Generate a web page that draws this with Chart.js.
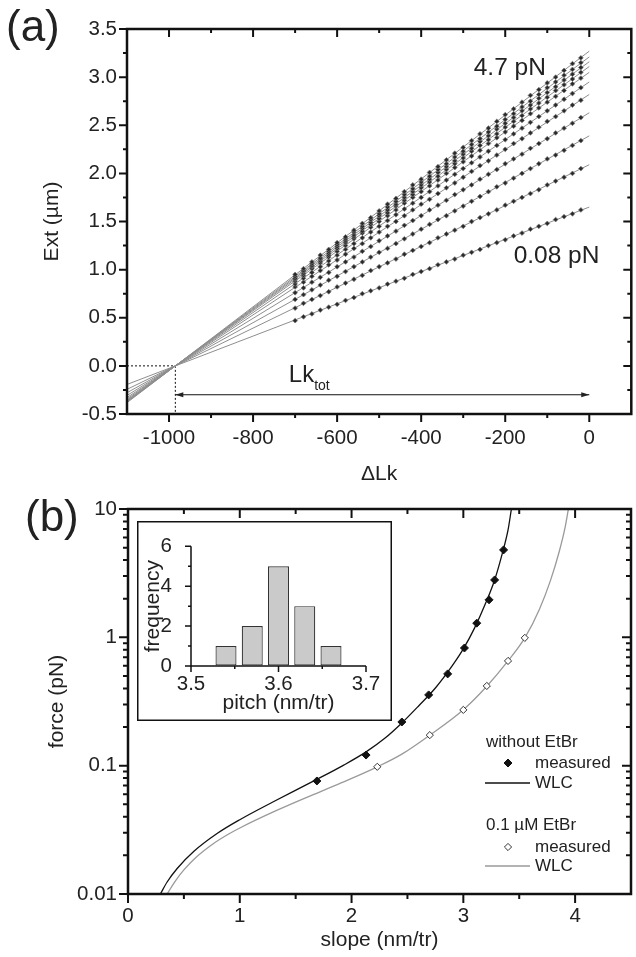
<!DOCTYPE html>
<html lang="en">
<head>
<meta charset="UTF-8">
<title>Extension vs ΔLk, force vs slope</title>
<script src="https://cdn.jsdelivr.net/npm/chart.js"></script>
<style>
  body { margin: 0; background: #fff; }
  #wrap { position: relative; width: 636px; height: 957px; }
  canvas { position: absolute; }
  #chartA { left: 0; top: 0; }
  #chartB { left: 0; top: 490px; }
  #inset { left: 137px; top: 521px; }
</style>
</head>
<body>
<div id="wrap">
  <canvas id="chartA" width="636" height="490"></canvas>
  <canvas id="chartB" width="636" height="467"></canvas>
  <canvas id="inset" width="255" height="200"></canvas>
</div>
<script>
// ---------- panel (a): extension vs linking number, 4.7 pN (top) .. 0.08 pN (bottom) ----------
const lkMeasured = [-700, -680, -660, -640, -620, -600, -580, -560, -540, -520, -500, -480, -460, -440, -420,
  -400, -380, -360, -340, -320, -300, -280, -260, -240, -220, -200, -180, -160, -140, -120, -100, -80, -60, -40, -20];

const extMeasured = [
  [0.95, 1.01, 1.08, 1.15, 1.21, 1.28, 1.34, 1.41, 1.48, 1.54, 1.61, 1.68, 1.74, 1.81, 1.88, 1.94, 2.01, 2.07, 2.14, 2.21, 2.27, 2.34, 2.41, 2.47, 2.54, 2.61, 2.67, 2.74, 2.81, 2.87, 2.94, 3.00, 3.07, 3.14, 3.20],
  [0.93, 0.99, 1.06, 1.12, 1.19, 1.26, 1.32, 1.39, 1.45, 1.52, 1.58, 1.65, 1.71, 1.78, 1.84, 1.91, 1.97, 2.04, 2.10, 2.17, 2.23, 2.30, 2.36, 2.43, 2.49, 2.56, 2.62, 2.69, 2.75, 2.82, 2.89, 2.95, 3.02, 3.08, 3.15],
  [0.91, 0.98, 1.04, 1.11, 1.17, 1.24, 1.30, 1.36, 1.43, 1.49, 1.56, 1.62, 1.68, 1.75, 1.81, 1.88, 1.94, 2.01, 2.07, 2.13, 2.20, 2.26, 2.33, 2.39, 2.46, 2.52, 2.58, 2.65, 2.71, 2.78, 2.84, 2.90, 2.97, 3.03, 3.10],
  [0.90, 0.96, 1.03, 1.09, 1.15, 1.22, 1.28, 1.34, 1.40, 1.47, 1.53, 1.59, 1.66, 1.72, 1.78, 1.85, 1.91, 1.97, 2.04, 2.10, 2.16, 2.23, 2.29, 2.35, 2.41, 2.48, 2.54, 2.60, 2.67, 2.73, 2.79, 2.86, 2.92, 2.98, 3.05],
  [0.88, 0.94, 1.01, 1.07, 1.13, 1.19, 1.25, 1.32, 1.38, 1.44, 1.50, 1.56, 1.62, 1.69, 1.75, 1.81, 1.87, 1.93, 2.00, 2.06, 2.12, 2.18, 2.24, 2.31, 2.37, 2.43, 2.49, 2.55, 2.62, 2.68, 2.74, 2.80, 2.86, 2.93, 2.99],
  [0.85, 0.91, 0.97, 1.03, 1.09, 1.15, 1.21, 1.27, 1.33, 1.39, 1.45, 1.51, 1.57, 1.63, 1.69, 1.75, 1.81, 1.87, 1.93, 1.99, 2.05, 2.11, 2.17, 2.23, 2.29, 2.35, 2.41, 2.47, 2.53, 2.59, 2.65, 2.71, 2.77, 2.83, 2.89],
  [0.82, 0.87, 0.93, 0.99, 1.05, 1.10, 1.16, 1.22, 1.27, 1.33, 1.39, 1.45, 1.50, 1.56, 1.62, 1.68, 1.73, 1.79, 1.85, 1.90, 1.96, 2.02, 2.08, 2.13, 2.19, 2.25, 2.31, 2.36, 2.42, 2.48, 2.54, 2.59, 2.65, 2.71, 2.76],
  [0.76, 0.81, 0.87, 0.92, 0.97, 1.03, 1.08, 1.13, 1.19, 1.24, 1.30, 1.35, 1.40, 1.46, 1.51, 1.56, 1.62, 1.67, 1.72, 1.78, 1.83, 1.88, 1.94, 1.99, 2.04, 2.10, 2.15, 2.20, 2.26, 2.31, 2.36, 2.42, 2.47, 2.52, 2.58],
  [0.69, 0.74, 0.79, 0.84, 0.89, 0.93, 0.98, 1.03, 1.08, 1.13, 1.18, 1.22, 1.27, 1.32, 1.37, 1.42, 1.47, 1.52, 1.56, 1.61, 1.66, 1.71, 1.76, 1.81, 1.86, 1.90, 1.95, 2.00, 2.05, 2.10, 2.15, 2.19, 2.24, 2.29, 2.34],
  [0.60, 0.65, 0.69, 0.73, 0.77, 0.82, 0.86, 0.90, 0.94, 0.99, 1.03, 1.07, 1.11, 1.16, 1.20, 1.24, 1.28, 1.33, 1.37, 1.41, 1.45, 1.50, 1.54, 1.58, 1.62, 1.67, 1.71, 1.75, 1.79, 1.83, 1.88, 1.92, 1.96, 2.00, 2.05],
  [0.47, 0.51, 0.54, 0.58, 0.61, 0.64, 0.68, 0.71, 0.75, 0.78, 0.81, 0.85, 0.88, 0.91, 0.95, 0.98, 1.01, 1.05, 1.08, 1.11, 1.15, 1.18, 1.21, 1.25, 1.28, 1.31, 1.35, 1.38, 1.42, 1.45, 1.48, 1.52, 1.55, 1.58, 1.62]
];

// straight fits, read at the two ends of the drawn lines
const fitLk = [-1100, 0];
const fitAtStart = [-0.382, -0.375, -0.369, -0.363, -0.356, -0.344, -0.329, -0.307, -0.279, -0.244, -0.193];
const fitAtZero = [3.27, 3.21, 3.16, 3.11, 3.05, 2.95, 2.82, 2.63, 2.39, 2.09, 1.65];

const lkZero = -985;     // where all fits cross Ext = 0
const arrowExt = -0.3;

const lkTicks = [-1000, -800, -600, -400, -200, 0];
const lkTickLabels = ['-1000', '-800', '-600', '-400', '-200', '0'];
const lkMinor = [-900, -700, -500, -300, -100];
const extTicks = [-0.5, 0, 0.5, 1, 1.5, 2, 2.5, 3, 3.5];
const extTickLabels = ['-0.5', '0.0', '0.5', '1.0', '1.5', '2.0', '2.5', '3.0', '3.5'];
const extMinor = [-0.25, 0.25, 0.75, 1.25, 1.75, 2.25, 2.75, 3.25];

// ---------- panel (b): force vs slope ----------
const slopeNoEtBr = [1.69, 2.13, 2.45, 2.69, 2.86, 3.01, 3.12, 3.23, 3.28, 3.36];
const forceNoEtBr = [0.076, 0.121, 0.219, 0.356, 0.519, 0.826, 1.29, 1.96, 2.80, 4.80];
const slopeEtBr = [2.23, 2.70, 3.00, 3.21, 3.40, 3.55];
const forceEtBr = [0.098, 0.173, 0.272, 0.418, 0.655, 0.99];

const wlcSlopeNo = [0.29, 0.35, 0.44, 0.59, 0.80, 1.00, 1.30, 1.68, 1.93, 2.13, 2.30, 2.45, 2.60, 2.75, 2.90, 3.00, 3.10, 3.20, 3.28, 3.35, 3.40, 3.43];
const wlcForceNo = [0.010, 0.0124, 0.0158, 0.0215, 0.0297, 0.0379, 0.0523, 0.0774, 0.101, 0.128, 0.164, 0.215, 0.292, 0.403, 0.599, 0.812, 1.18, 1.85, 2.80, 4.55, 6.87, 10];
const wlcSlopeEt = [0.35, 0.42, 0.50, 0.60, 0.75, 0.885, 1.00, 1.33, 1.77, 1.95, 2.23, 2.45, 2.70, 3.00, 3.21, 3.40, 3.55, 3.68, 3.78, 3.86, 3.91, 3.94];
const wlcForceEt = [0.010, 0.0125, 0.0154, 0.0190, 0.0242, 0.0288, 0.0327, 0.0448, 0.0654, 0.0761, 0.0979, 0.123, 0.173, 0.273, 0.416, 0.655, 0.989, 1.65, 2.78, 4.73, 7.15, 10];

const slopeTicks = [0, 1, 2, 3, 4];
const slopeTickLabels = ['0', '1', '2', '3', '4'];
const slopeMinor = [0.5, 1.5, 2.5, 3.5];
const forceTicks = [0.01, 0.1, 1, 10];
const forceTickLabels = ['0.01', '0.1', '1', '10'];
const forceMinor = [0.02, 0.03, 0.04, 0.05, 0.06, 0.07, 0.08, 0.09, 0.2, 0.3, 0.4, 0.5, 0.6, 0.7, 0.8, 0.9, 2, 3, 4, 5, 6, 7, 8, 9];

// inset histogram
const pitchBins = [3.54, 3.57, 3.60, 3.63, 3.66];
const pitchCounts = [1, 2, 5, 3, 1];
const pitchTicks = [3.5, 3.6, 3.7];
const pitchTickLabels = ['3.5', '3.6', '3.7'];
const pitchMinor = [3.55, 3.65];
const freqTicks = [0, 2, 4, 6];
const freqTickLabels = ['0', '2', '4', '6'];
const freqMinor = [1, 3, 5];

// ---------- shared bits ----------
const FONT = '"Liberation Sans", Arial, Helvetica, sans-serif';
const INK = '#222';
Chart.defaults.font.family = FONT;
Chart.defaults.color = INK;

const fixedTicks = values => s => { s.ticks = values.map(v => ({ value: v })); };
const pts = (xs, ys) => xs.map((x, i) => ({ x: x, y: ys[i] }));

function axis(o) {
  return {
    type: o.type || 'linear', min: o.min, max: o.max, offset: false,
    afterBuildTicks: fixedTicks(o.ticks),
    afterFit: o.fit,
    ticks: { callback: (v, i) => o.labels[i], font: { size: 20.5 }, padding: o.pad, maxRotation: 0, autoSkip: false },
    grid: { color: 'transparent', drawOnChartArea: false, tickLength: o.tickLen || 8, offset: false },
    border: { display: false },
    title: { display: true, text: o.title, font: { size: 21 }, padding: o.titlePad }
  };
}

// ticks on all sides (mirror) or only on left/bottom, drawn from the scales
const frameTicks = {
  id: 'frameTicks',
  afterDatasetsDraw(chart, args, o) {
    const { ctx, chartArea: a } = chart;
    const x = chart.scales.x, y = chart.scales.y;
    ctx.save();
    ctx.strokeStyle = '#111';
    ctx.lineWidth = o.tickWidth;
    ctx.beginPath();
    const vt = (v, len) => {
      const p = x.getPixelForValue(v);
      ctx.moveTo(p, a.bottom); ctx.lineTo(p, a.bottom + len);
      if (o.mirror) { ctx.moveTo(p, a.top); ctx.lineTo(p, a.top + len); }
    };
    const ht = (v, len) => {
      const p = y.getPixelForValue(v);
      ctx.moveTo(a.left, p); ctx.lineTo(a.left - len, p);
      if (o.mirror) { ctx.moveTo(a.right, p); ctx.lineTo(a.right - len, p); }
    };
    o.xMajor.forEach(v => vt(v, o.major));
    o.xMinor.forEach(v => vt(v, o.minor));
    o.yMajor.forEach(v => ht(v, o.major));
    o.yMinor.forEach(v => ht(v, o.minor));
    ctx.stroke();
    ctx.lineWidth = o.axisWidth;
    ctx.beginPath();
    if (o.mirror) {
      ctx.rect(a.left, a.top, a.right - a.left, a.bottom - a.top);
    } else {
      ctx.moveTo(a.left, a.top); ctx.lineTo(a.left, a.bottom); ctx.lineTo(a.right, a.bottom);
    }
    ctx.stroke();
    ctx.restore();
  }
};

function diamond(ctx, cx, cy, r, fill, stroke) {
  ctx.beginPath();
  ctx.moveTo(cx, cy - r); ctx.lineTo(cx + r, cy); ctx.lineTo(cx, cy + r); ctx.lineTo(cx - r, cy);
  ctx.closePath();
  ctx.fillStyle = fill; ctx.fill();
  ctx.strokeStyle = stroke; ctx.lineWidth = 1; ctx.stroke();
}

// ---------- chart (a) ----------
const notesA = {
  id: 'notesA',
  afterDatasetsDraw(chart) {
    const { ctx } = chart;
    const x = chart.scales.x, y = chart.scales.y;
    ctx.save();
    ctx.fillStyle = INK;
    ctx.textBaseline = 'alphabetic';
    ctx.textAlign = 'left';
    ctx.font = '44px ' + FONT;
    ctx.fillText('(a)', 6, 41);
    ctx.font = '24.5px ' + FONT;
    ctx.fillText('4.7 pN', x.getPixelForValue(-275), y.getPixelForValue(3.02));
    ctx.fillText('0.08 pN', x.getPixelForValue(-180), y.getPixelForValue(1.07));
    const lx = x.getPixelForValue(-715), ly = y.getPixelForValue(-0.17);
    ctx.font = '24px ' + FONT;
    ctx.fillText('Lk', lx, ly);
    const w = ctx.measureText('Lk').width;
    ctx.font = '14px ' + FONT;
    ctx.fillText('tot', lx + w, ly + 8);
    // arrow heads of the Lk_tot arrow
    const ay = y.getPixelForValue(arrowExt);
    [[x.getPixelForValue(lkZero), 1], [x.getPixelForValue(0), -1]].forEach(([tx, d]) => {
      ctx.beginPath();
      ctx.moveTo(tx, ay); ctx.lineTo(tx + d * 8, ay - 2.5); ctx.lineTo(tx + d * 8, ay + 2.5);
      ctx.closePath();
      ctx.fill();
    });
    ctx.restore();
  }
};

const markerSets = extMeasured.map(ys => ({
  data: pts(lkMeasured, ys), showLine: false, order: 1,
  pointStyle: 'rectRot', pointRadius: 2.4,
  pointBackgroundColor: '#2a2a2a', pointBorderColor: '#7a7a7a', pointBorderWidth: 0.7
}));
const fitSets = fitAtZero.map((e, i) => ({
  data: pts(fitLk, [fitAtStart[i], e]), showLine: true, order: 2,
  borderColor: '#8e8e8e', borderWidth: 1, pointRadius: 0
}));
const guideSets = [
  { data: pts([-1100, lkZero], [0, 0]), showLine: true, order: 3, borderColor: '#111', borderWidth: 1, borderDash: [2, 2], pointRadius: 0 },
  { data: pts([lkZero, lkZero], [0, -0.5]), showLine: true, order: 3, borderColor: '#111', borderWidth: 1, borderDash: [2, 2], pointRadius: 0 },
  { data: pts([lkZero, 0], [arrowExt, arrowExt]), showLine: true, order: 3, borderColor: '#111', borderWidth: 1, pointRadius: 0 }
];

new Chart(document.getElementById('chartA'), {
  type: 'scatter',
  data: { datasets: [...markerSets, ...fitSets, ...guideSets] },
  options: {
    responsive: false, animation: false, events: [],
    layout: { padding: { top: 29, right: 2, left: 0, bottom: 0 } },
    plugins: {
      legend: { display: false }, tooltip: { enabled: false },
      frameTicks: { xMajor: lkTicks, xMinor: lkMinor, yMajor: extTicks, yMinor: extMinor, major: 8, minor: 4, mirror: true, tickWidth: 2, axisWidth: 2.5 }
    },
    scales: {
      x: axis({ min: -1100, max: 100, ticks: lkTicks, labels: lkTickLabels, pad: 4, title: 'ΔLk',
        titlePad: { top: 0, bottom: 3 }, fit: s => { s.height = 76; } }),
      y: axis({ min: -0.5, max: 3.5, ticks: extTicks, labels: extTickLabels, pad: 2, title: 'Ext (µm)',
        titlePad: { top: 40, bottom: 0 }, fit: s => { s.width = 127; } })
    }
  },
  plugins: [frameTicks, notesA]
});

// ---------- chart (b) ----------
const notesB = {
  id: 'notesB',
  afterDatasetsDraw(chart) {
    const { ctx } = chart;
    ctx.save();
    ctx.fillStyle = INK;
    ctx.textAlign = 'left';
    ctx.textBaseline = 'alphabetic';
    ctx.font = '44px ' + FONT;
    ctx.fillText('(b)', 25, 41);
    ctx.textBaseline = 'middle';
    ctx.font = '17px ' + FONT;
    ctx.fillText('without EtBr', 486, 252);
    diamond(ctx, 508, 273, 4, '#111', '#111');
    ctx.fillStyle = INK;
    ctx.fillText('measured', 535, 273);
    ctx.fillText('WLC', 535, 293);
    ctx.fillText('0.1 µM EtBr', 486, 335);
    diamond(ctx, 508, 357, 3.6, '#fff', '#333');
    ctx.fillStyle = INK;
    ctx.fillText('measured', 535, 357);
    ctx.fillText('WLC', 535, 376);
    ctx.lineWidth = 1.3;
    ctx.strokeStyle = '#111';
    ctx.beginPath(); ctx.moveTo(485, 293); ctx.lineTo(530, 293); ctx.stroke();
    ctx.strokeStyle = '#9a9a9a';
    ctx.beginPath(); ctx.moveTo(485, 376); ctx.lineTo(530, 376); ctx.stroke();
    ctx.restore();
  }
};

new Chart(document.getElementById('chartB'), {
  type: 'scatter',
  data: {
    datasets: [
      { data: pts(slopeNoEtBr, forceNoEtBr), order: 1, pointStyle: 'rectRot', pointRadius: 4,
        pointBackgroundColor: '#111', pointBorderColor: '#111', pointBorderWidth: 1 },
      { data: pts(slopeEtBr, forceEtBr), order: 1, pointStyle: 'rectRot', pointRadius: 3.6,
        pointBackgroundColor: '#fff', pointBorderColor: '#333', pointBorderWidth: 1 },
      { data: pts(wlcSlopeNo, wlcForceNo), showLine: true, order: 2, borderColor: '#111', borderWidth: 1.3,
        pointRadius: 0, cubicInterpolationMode: 'monotone' },
      { data: pts(wlcSlopeEt, wlcForceEt), showLine: true, order: 2, borderColor: '#9a9a9a', borderWidth: 1.3,
        pointRadius: 0, cubicInterpolationMode: 'monotone' }
    ]
  },
  options: {
    responsive: false, animation: false, events: [],
    layout: { padding: { top: 19, right: 2, left: 0, bottom: 0 } },
    plugins: {
      legend: { display: false }, tooltip: { enabled: false },
      frameTicks: { xMajor: slopeTicks, xMinor: slopeMinor, yMajor: forceTicks, yMinor: forceMinor, major: 9, minor: 5, mirror: true, tickWidth: 2, axisWidth: 2.5 }
    },
    scales: {
      x: axis({ min: 0, max: 4.5, ticks: slopeTicks, labels: slopeTickLabels, pad: 2, title: 'slope (nm/tr)',
        titlePad: { top: 0, bottom: 4 }, fit: s => { s.height = 63; } }),
      y: axis({ type: 'logarithmic', min: 0.01, max: 10, ticks: forceTicks, labels: forceTickLabels, pad: 3,
        title: 'force (pN)', titlePad: { top: 45, bottom: 0 }, fit: s => { s.width = 128; } })
    }
  },
  plugins: [frameTicks, notesB]
});

// ---------- inset histogram ----------
const insetBox = {
  id: 'insetBox',
  beforeDraw(chart) {
    const { ctx, width, height } = chart;
    ctx.save(); ctx.fillStyle = '#fff'; ctx.fillRect(0, 0, width, height); ctx.restore();
  },
  afterDraw(chart) {
    const { ctx, width, height } = chart;
    ctx.save(); ctx.strokeStyle = '#111'; ctx.lineWidth = 1.5;
    ctx.strokeRect(0.75, 0.75, width - 1.5, height - 1.5); ctx.restore();
  }
};

new Chart(document.getElementById('inset'), {
  type: 'bar',
  data: {
    datasets: [{
      data: pts(pitchBins, pitchCounts), backgroundColor: '#cacaca', borderColor: '#333', borderWidth: 1.2,
      borderSkipped: false, categoryPercentage: 1, barPercentage: 0.8
    }]
  },
  options: {
    responsive: false, animation: false, events: [],
    layout: { padding: { top: 15, right: 26, left: 0, bottom: 0 } },
    plugins: {
      legend: { display: false }, tooltip: { enabled: false },
      frameTicks: { xMajor: pitchTicks, xMinor: pitchMinor, yMajor: freqTicks, yMinor: freqMinor, major: 6, minor: 3, mirror: false, tickWidth: 1.5, axisWidth: 1.5 }
    },
    scales: {
      x: axis({ min: 3.5, max: 3.7, ticks: pitchTicks, labels: pitchTickLabels, pad: 0, tickLen: 6, title: 'pitch (nm/tr)',
        titlePad: { top: 0, bottom: 5 }, fit: s => { s.height = 55; } }),
      y: axis({ min: 0, max: 6, ticks: freqTicks, labels: freqTickLabels, pad: 13, tickLen: 6, title: 'frequency',
        titlePad: { top: 4, bottom: 0 }, fit: s => { s.width = 54; } })
    }
  },
  plugins: [insetBox, frameTicks]
});
</script>
</body>
</html>
